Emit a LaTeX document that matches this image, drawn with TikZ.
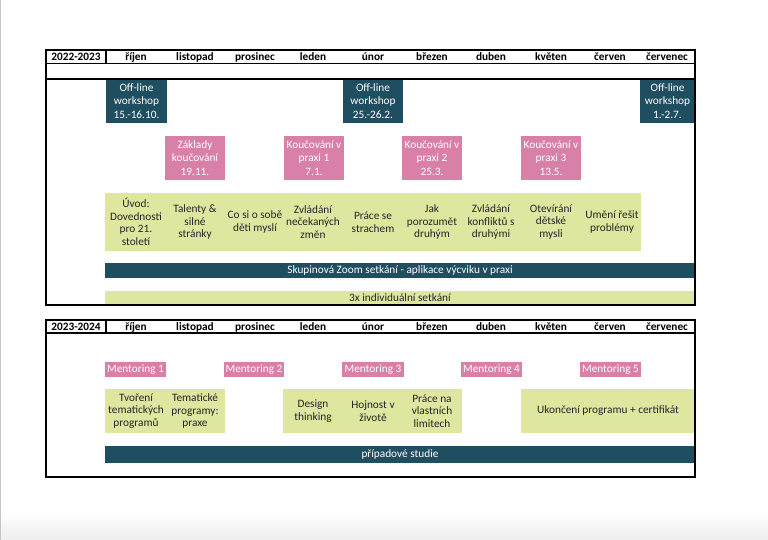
\documentclass[tikz,border=0pt]{standalone}
\usepackage{fontspec}
\setmainfont{Carlito}
\definecolor{dk}{RGB}{31,78,97}
\definecolor{pk}{RGB}{216,128,167}
\definecolor{yl}{RGB}{222,230,160}
\definecolor{txt}{RGB}{38,38,38}
\tikzset{
  fbox/.style={anchor=north west, inner sep=0pt, outer sep=0pt, align=center, font=\fontsize{11.3}{13.2}\selectfont},
  dkbox/.style={fbox, fill=dk, text=white},
  pkbox/.style={fbox, fill=pk, text=white},
  ylbox/.style={fbox, fill=yl, text=txt},
  coltxt/.style={inner sep=0pt, align=center, text=txt, font=\fontsize{11.3}{12.6}\selectfont},
  bartxt/.style={inner sep=0pt, align=center, font=\fontsize{11.3}{13}\selectfont},
  hdr/.style={inner sep=0pt, font=\fontsize{11.3}{13}\selectfont\bfseries},
  frame/.style={line width=2pt, black},
  rule/.style={line width=1.5pt, black}
}
\begin{document}
\begin{tikzpicture}[x=1pt,y=-1pt]
\useasboundingbox (0,0) rectangle (768,540);
\fill[white] (0,0) rectangle (768,540);
\shade[top color=white, bottom color=gray!14] (0,512) rectangle (768,540);
\fill[gray!45] (0,0) rectangle (1.2,540);

% ---------- Box 1 ----------
\node[dkbox, minimum width=61pt, minimum height=44pt] (ow1) at (106,79) {Off-line\\workshop\\15.-16.10.};
\node[dkbox, minimum width=60pt, minimum height=44pt] (ow2) at (343,79) {Off-line\\workshop\\25.-26.2.};
\node[dkbox, minimum width=55pt, minimum height=44pt] (ow3) at (640,79) {Off-line\\workshop\\1.-2.7.};

\node[pkbox, minimum width=60pt, minimum height=44pt] (k0) at (165,136) {Základy\\koučování\\19.11.};
\node[pkbox, minimum width=60pt, minimum height=44pt] (k1) at (284,136) {Koučování v\\praxi 1\\7.1.};
\node[pkbox, minimum width=60pt, minimum height=44pt] (k2) at (402,136) {Koučování v\\praxi 2\\25.3.};
\node[pkbox, minimum width=60pt, minimum height=44pt] (k3) at (521,136) {Koučování v\\praxi 3\\13.5.};

\node[ylbox, minimum width=536pt, minimum height=58pt] (yrow) at (105,193) {};
\node[coltxt] (t1) at (136,222) {Úvod:\\Dovednosti\\pro 21.\\století};
\node[coltxt] (t2) at (195,222) {Talenty \&\\silné\\stránky};
\node[coltxt] (t3) at (255,222) {Co si o sobě\\děti myslí};
\node[coltxt] (t4) at (313,222) {Zvládání\\nečekaných\\změn};
\node[coltxt] (t5) at (373,222) {Práce se\\strachem};
\node[coltxt] (t6) at (432,222) {Jak\\porozumět\\druhým};
\node[coltxt] (t7) at (491,222) {Zvládání\\konfliktů s\\druhými};
\node[coltxt] (t8) at (551,222) {Otevírání\\dětské\\mysli};
\node[coltxt] (t9) at (612,222) {Umění řešit\\problémy};

\node[dkbox, minimum width=590pt, minimum height=15pt] (zoom) at (105,263) {};
\node[bartxt, text=white] (zoomt) at (400,270.5) {Skupinová Zoom setkání - aplikace výcviku v praxi};
\node[ylbox, minimum width=590pt, minimum height=14pt] (ind) at (105,291) {};
\node[bartxt, text=txt] (indt) at (400,298) {3x individuální setkání};

\draw[rule] (46,63.5) -- (695,63.5);
\draw[rule] (46,79) -- (695,79);
\draw[rule] (106,50) -- (106,63.5);
\draw[frame] (46,50) rectangle (695,305);

\node[hdr] (y1) at (76,57) {2022-2023};
\node[hdr] (m1a) at (136,57) {říjen};
\node[hdr] (m1b) at (195,57) {listopad};
\node[hdr] (m1c) at (255,57) {prosinec};
\node[hdr] (m1d) at (313,57) {leden};
\node[hdr] (m1e) at (373,57) {únor};
\node[hdr] (m1f) at (432,57) {březen};
\node[hdr] (m1g) at (491,57) {duben};
\node[hdr] (m1h) at (551,57) {květen};
\node[hdr] (m1i) at (610,57) {červen};
\node[hdr] (m1j) at (667,57) {červenec};

% ---------- Box 2 ----------
\node[pkbox, minimum width=61pt, minimum height=15pt] (mt1) at (105,362) {Mentoring 1};
\node[pkbox, minimum width=60pt, minimum height=15pt] (mt2) at (224,362) {Mentoring 2};
\node[pkbox, minimum width=62pt, minimum height=15pt] (mt3) at (342,362) {Mentoring 3};
\node[pkbox, minimum width=61pt, minimum height=15pt] (mt4) at (461,362) {Mentoring 4};
\node[pkbox, minimum width=61pt, minimum height=15pt] (mt5) at (580,362) {Mentoring 5};

\node[ylbox, minimum width=120pt, minimum height=44pt] (ya) at (105,389) {};
\node[coltxt] (u1) at (136,411) {Tvoření\\tematických\\programů};
\node[coltxt] (u2) at (195,411) {Tematické\\programy:\\praxe};
\node[ylbox, minimum width=179pt, minimum height=44pt] (yb) at (283,389) {};
\node[coltxt] (u3) at (313,411) {Design\\thinking};
\node[coltxt] (u4) at (373,411) {Hojnost v\\životě};
\node[coltxt] (u5) at (432,411) {Práce na\\vlastních\\limitech};
\node[ylbox, minimum width=174pt, minimum height=44pt] (yc) at (521,389) {};
\node[coltxt] (u6) at (608,411) {Ukončení programu + certifikát};

\node[dkbox, minimum width=590pt, minimum height=17pt] (pripad) at (105,446) {};
\node[bartxt, text=white] (pripadt) at (400,454.5) {případové studie};

\draw[rule] (46,333) -- (695,333);
\draw[rule] (106,320) -- (106,333);
\draw[frame] (46,320) rectangle (695,477);

\node[hdr] (y2) at (76,327) {2023-2024};
\node[hdr] (m2a) at (136,327) {říjen};
\node[hdr] (m2b) at (195,327) {listopad};
\node[hdr] (m2c) at (255,327) {prosinec};
\node[hdr] (m2d) at (313,327) {leden};
\node[hdr] (m2e) at (373,327) {únor};
\node[hdr] (m2f) at (432,327) {březen};
\node[hdr] (m2g) at (491,327) {duben};
\node[hdr] (m2h) at (551,327) {květen};
\node[hdr] (m2i) at (610,327) {červen};
\node[hdr] (m2j) at (667,327) {červenec};
\end{tikzpicture}
\end{document}
